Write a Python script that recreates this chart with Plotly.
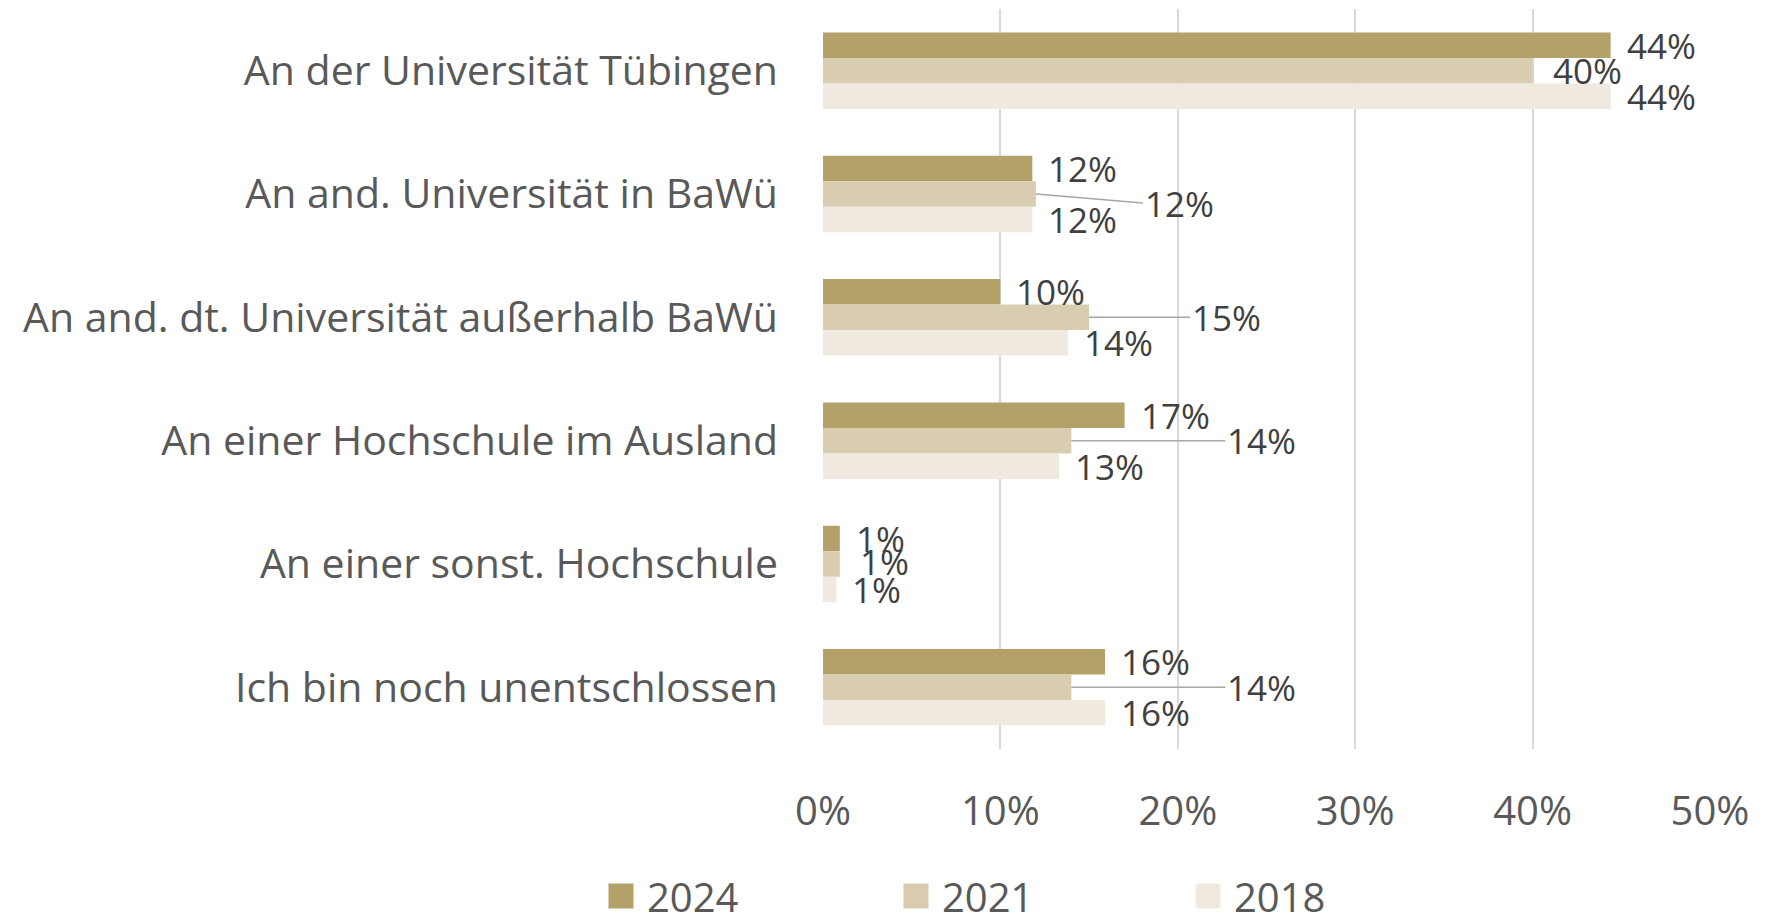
import plotly.graph_objects as go

categories = [
    "An der Universität Tübingen",
    "An and. Universität in BaWü",
    "An and. dt. Universität außerhalb BaWü",
    "An einer Hochschule im Ausland",
    "An einer sonst. Hochschule",
    "Ich bin noch unentschlossen",
]
years = ["2024", "2021", "2018"]
values_2024 = [0.444, 0.118, 0.100, 0.170, 0.0095, 0.159]
values_2021 = [0.400, 0.120, 0.150, 0.140, 0.0095, 0.140]
values_2018 = [0.444, 0.118, 0.138, 0.133, 0.0076, 0.159]
x_ticks = [0, 0.1, 0.2, 0.3, 0.4, 0.5]
x_tick_labels = ["0%", "10%", "20%", "30%", "40%", "50%"]

series = [values_2024, values_2021, values_2018]
colors = ["#B4A069", "#D8CDB1", "#F0E9E0"]

# label placement for the 2021 series (pixel offsets of label from bar end; style only)
label_offsets_2021 = [(18, 0, False), (107, 9, True), (101, 0, True), (154, 0, True), (18, -3, False), (154, 0, True)]

FONT = "Open Sans"
bargap = 0.38
L, R, T, B = 815, 63, 1, 183
W, H = 1765, 924

fig = go.Figure()
for name, vals, col in zip(years, series, colors):
    fig.add_trace(go.Bar(
        y=categories, x=vals, name=name, orientation="h",
        marker=dict(color=col, line=dict(width=0)),
        showlegend=False,
    ))

w = (1 - bargap) / 3
annotations = []
lab_font = dict(family=FONT, size=35, color="#404040")
for j, vals in enumerate(series):
    for i, v in enumerate(vals):
        txt = f"{max(1, round(v * 100)):.0f}%"
        if j == 1:
            dx, dy, arrow = label_offsets_2021[i]
            if arrow:
                annotations.append(dict(
                    x=v, y=i, xref="x", yref="y", text=txt,
                    showarrow=True, ax=dx, ay=dy, axref="pixel", ayref="pixel",
                    arrowhead=0, arrowwidth=1.5, arrowcolor="#A6A6A6", standoff=0,
                    xanchor="left", yanchor="middle", font=lab_font,
                ))
            else:
                annotations.append(dict(
                    x=v, y=i, xref="x", yref="y", text=txt, showarrow=False,
                    xshift=dx, yshift=-dy, xanchor="left", yanchor="middle", font=lab_font,
                ))
        else:
            annotations.append(dict(
                x=v, y=i + (j - 1) * w, xref="x", yref="y", text=txt, showarrow=False,
                xshift=14, xanchor="left", yanchor="middle", font=lab_font,
            ))

# custom legend (large swatches like the reference)
legend_centers_px = [613, 908, 1200]
legend_y_px = 888
bottom_px = H - B
shapes = []
for name, col, cx in zip(years, colors, legend_centers_px):
    shapes.append(dict(
        type="rect", xref="paper", yref="paper",
        xsizemode="pixel", ysizemode="pixel", xanchor=0, yanchor=0,
        x0=cx - L - 12.5, x1=cx - L + 12.5,
        y0=-(legend_y_px - bottom_px) - 12.5, y1=-(legend_y_px - bottom_px) + 12.5,
        fillcolor=col, line=dict(width=0),
    ))
    annotations.append(dict(
        x=0, y=0, xref="paper", yref="paper", xshift=cx - L + 24, yshift=-(legend_y_px - bottom_px),
        text=name, showarrow=False, xanchor="left", yanchor="middle",
        font=dict(family=FONT, size=40, color="#595959"),
    ))

fig.update_layout(
    width=W, height=H,
    margin=dict(l=L, r=R, t=T, b=B, autoexpand=False),
    paper_bgcolor="white", plot_bgcolor="white",
    barmode="group", bargap=bargap, bargroupgap=0,
    font=dict(family=FONT, color="#595959"),
    annotations=annotations, shapes=shapes,
    showlegend=False,
    xaxis=dict(
        range=[0, 0.5], tickvals=x_ticks, ticktext=x_tick_labels,
        showgrid=True, gridcolor="#D9D9D9", gridwidth=1.5,
        zeroline=False, showline=False, ticks="",
        tickfont=dict(family=FONT, size=40, color="#595959"),
        ticklabelstandoff=35,
    ),
    yaxis=dict(
        autorange="reversed", showgrid=False, zeroline=False, showline=False,
        ticks="", tickfont=dict(family=FONT, size=41, color="#595959"),
        ticklabelstandoff=44,
    ),
)

fig.write_html("out.html")
